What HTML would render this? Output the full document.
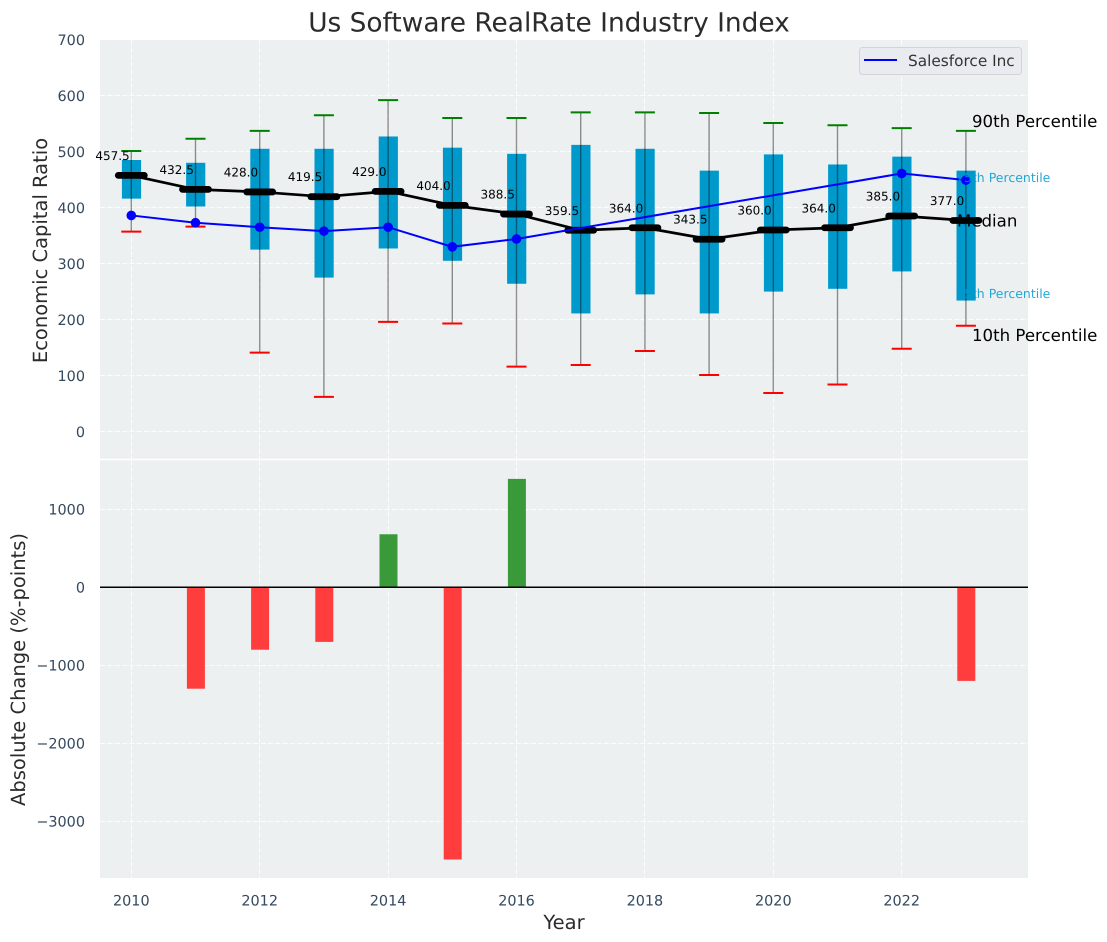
<!DOCTYPE html>
<html lang="en">
<head>
<meta charset="utf-8">
<title>Us Software RealRate Industry Index</title>
<style>
html,body{margin:0;padding:0;background:#fff;width:1107px;height:942px;overflow:hidden}
svg{display:block;font-family:"DejaVu Sans","Liberation Sans",sans-serif;text-rendering:geometricPrecision}
</style>
</head>
<body>
<svg id="chart" width="1107" height="942" viewBox="0 0 1107 942" xmlns="http://www.w3.org/2000/svg">
  <text x="549" y="31.5" text-anchor="middle" font-size="26.4" fill="#2b2b2b">Us Software RealRate Industry Index</text>
  <rect x="100" y="40" width="928" height="418.7" fill="#ecf0f1"/>
  <rect x="100" y="460.3" width="928" height="417.7" fill="#ecf0f1"/>
  <g id="grid"></g>
  <g id="bars"></g>
  <line x1="100" x2="1028" y1="587.3" y2="587.3" stroke="#000" stroke-width="1.5"/>
  <g id="boxes"></g>
  <g id="whiskers"></g>
  <g id="median"></g>
  <g id="company"></g>
  <g id="ticks"></g>
  <text x="972" y="127" font-size="16.6" fill="#000">90th Percentile</text>
  <text x="956" y="182" font-size="12.5" fill="#0099cc" fill-opacity="0.85">75th Percentile</text>
  <text x="957" y="226.5" font-size="16.6" fill="#000">Median</text>
  <text x="956" y="298" font-size="12.5" fill="#0099cc" fill-opacity="0.85">25th Percentile</text>
  <text x="972" y="341" font-size="16.6" fill="#000">10th Percentile</text>
  <g>
    <rect x="859.5" y="47.5" width="162" height="27" rx="3" fill="#e9ebf1" stroke="#d2d4d8"/>
    <line x1="864" x2="897" y1="60" y2="60" stroke="#0000ff" stroke-width="2"/>
    <text x="908" y="66" font-size="15.3" fill="#333">Salesforce Inc</text>
  </g>
  <text transform="translate(47,250.5) rotate(-90)" text-anchor="middle" font-size="19.5" fill="#2b2b2b">Economic Capital Ratio</text>
  <text transform="translate(25,669.5) rotate(-90)" text-anchor="middle" font-size="19.5" fill="#2b2b2b">Absolute Change (%-points)</text>
  <text x="564" y="929" text-anchor="middle" font-size="19.5" fill="#2b2b2b">Year</text>
</svg>
<script>
const years = [2010,2011,2012,2013,2014,2015,2016,2017,2018,2019,2020,2021,2022,2023];
const p90 = [501,523,537,565,592,560,560,570,570,569,551,547,542,537];
const p75 = [485,480,505,505,527,507,496,512,505,466,495,477,491,466];
const medians = [457.5,432.5,428,419.5,429,404,388.5,359.5,364,343.5,360,364,385,377];
const p25 = [416,402,325,275,327,305,264,211,245,211,250,255,286,234];
const p10 = [357,366,141,62,196,193,116,119,144,101,69,84,148,189];
const salesforce = [386,373,365,358,365,330,344,null,null,null,null,null,461,449];
const changes = [0,-1300,-800,-700,680,-3490,1390,0,0,0,0,0,0,-1200];
const topTicks = [0,100,200,300,400,500,600,700];
const bottomTicks = [-3000,-2000,-1000,0,1000];
const xTicks = [2010,2012,2014,2016,2018,2020,2022];

const NS = 'http://www.w3.org/2000/svg';
const xScale = v => 131.3 + (v - 2010) * 64.2;
const yTop = v => 431.6 - v * 0.56;
const yBottom = v => 587.3 - v * 0.078;
const snap = v => Math.floor(v) + 0.5;

function mk(parent, tag, attrs, txt) {
  const el = document.createElementNS(NS, tag);
  for (const k in attrs) el.setAttribute(k, attrs[k]);
  if (txt !== undefined) el.textContent = txt;
  document.getElementById(parent).appendChild(el);
  return el;
}
const gridStyle = {stroke:'#ffffff', 'stroke-width':1, 'stroke-dasharray':'5.3 2', 'stroke-opacity':0.8};

xTicks.forEach(t => {
  const gx = snap(xScale(t));
  const a = mk('grid', 'line', Object.assign({x1:gx, x2:gx, y1:40, y2:458.7}, gridStyle));
  
  
  const b = mk('grid', 'line', Object.assign({x1:gx, x2:gx, y1:460.3, y2:878}, gridStyle));
  
  
  const l = mk('ticks', 'text', {x:xScale(t), y:905.5, 'text-anchor':'middle', 'font-size':14.4, fill:'#34495e'}, String(t));
  
  
});
topTicks.forEach(t => {
  if (t < 700) {
    const gy = snap(yTop(t));
    const g = mk('grid', 'line', Object.assign({x1:100, x2:1028, y1:gy, y2:gy}, gridStyle));
    
    
  }
  const l = mk('ticks', 'text', {x:85, y:yTop(t) + 5.3, 'text-anchor':'end', 'font-size':14.4, fill:'#34495e'}, String(t));
  
  
});
bottomTicks.forEach(t => {
  const gy = snap(yBottom(t));
  const g = mk('grid', 'line', Object.assign({x1:100, x2:1028, y1:gy, y2:gy}, gridStyle));
  
  
  const l = mk('ticks', 'text', {x:85, y:yBottom(t) + 5.3, 'text-anchor':'end', 'font-size':14.4, fill:'#34495e'}, String(t).replace('-', '\u2212'));
  
  
});

changes.forEach((v, i) => {
  if (!v) return;
  const y0 = yBottom(Math.max(v, 0)), y1 = yBottom(Math.min(v, 0));
  const r = mk('bars', 'rect', {x:xScale(years[i]) - 8.6, y:y0, width:18, height:y1 - y0, fill:v < 0 ? '#ff3d3d' : '#3a9a3a'});
  
  
});

years.forEach((yr, i) => {
  const cx = xScale(yr);
  const box = mk('boxes', 'rect', {x:cx - 9.4, y:yTop(p75[i]), width:19.2, height:yTop(p25[i]) - yTop(p75[i]), fill:'#0099cc'});
  
  
  const w = mk('whiskers', 'line', {x1:cx, x2:cx, y1:yTop(p90[i]), y2:yTop(p10[i]), stroke:'#000', 'stroke-opacity':0.42, 'stroke-width':1.4});
  
  
  const hi = mk('whiskers', 'line', {x1:cx - 10, x2:cx + 10, y1:yTop(p90[i]), y2:yTop(p90[i]), stroke:'#008000', 'stroke-width':2});
  
  
  const lo = mk('whiskers', 'line', {x1:cx - 10, x2:cx + 10, y1:yTop(p10[i]), y2:yTop(p10[i]), stroke:'#ff0000', 'stroke-width':2});
  
  
});

const medLine = mk('median', 'polyline', {points:years.map((yr, i) => xScale(yr) + ',' + yTop(medians[i])).join(' '), fill:'none', stroke:'#000', 'stroke-width':2.7});


years.forEach((yr, i) => {
  const cx = xScale(yr), cy = yTop(medians[i]);
  const m = mk('median', 'line', {x1:cx - 13, x2:cx + 13, y1:cy, y2:cy, stroke:'#000', 'stroke-width':6.8, 'stroke-linecap':'round'});
  
  
  const t = mk('median', 'text', {x:cx - 18.8, y:cy - 15.5, 'text-anchor':'middle', 'font-size':12, fill:'#000'}, medians[i].toFixed(1));
  
  
});

const present = years.map((yr, i) => [yr, salesforce[i]]).filter(d => d[1] !== null);
const coLine = mk('company', 'polyline', {points:present.map(d => xScale(d[0]) + ',' + yTop(d[1])).join(' '), fill:'none', stroke:'#0000ff', 'stroke-width':2});


present.forEach(d => {
  const c = mk('company', 'circle', {cx:xScale(d[0]), cy:yTop(d[1]), r:4.8, fill:'#0000ff'});
  
  
});
</script>
</body>
</html>
